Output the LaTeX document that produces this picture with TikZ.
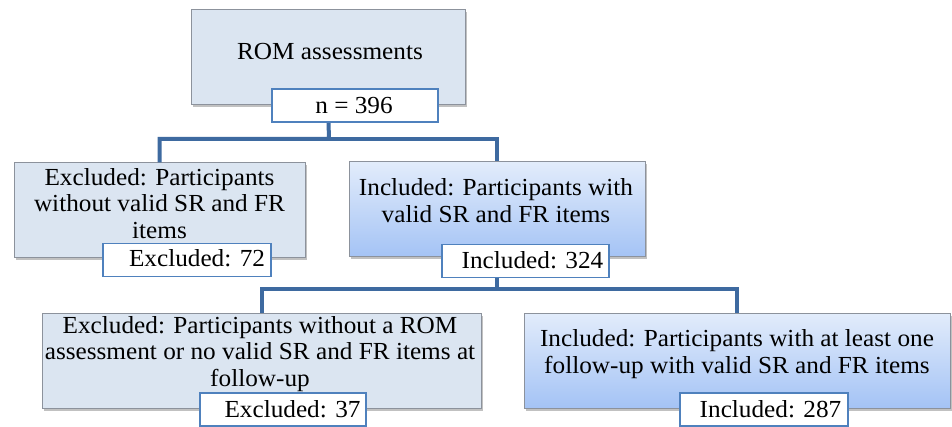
\documentclass[tikz,border=0pt]{standalone}
\usepackage{fontspec}
\setmainfont[FakeStretch=1.03]{Liberation Serif}
\usetikzlibrary{shadows}
\definecolor{exfill}{RGB}{219,229,241}
\definecolor{boxline}{RGB}{140,146,156}
\definecolor{intop}{RGB}{226,236,251}
\definecolor{inbot}{RGB}{164,195,245}
\definecolor{conn}{RGB}{62,106,160}
\definecolor{smallline}{RGB}{79,129,189}
\tikzset{
  bigbox/.style={draw=boxline, line width=1pt, inner sep=0pt,
    drop shadow={shadow xshift=1.5pt, shadow yshift=-2.5pt, opacity=0.35, fill=black!70}},
  exbox/.style={bigbox, fill=exfill},
  inbox/.style={bigbox, top color=intop, bottom color=inbot},
  countbox/.style={draw=smallline, fill=white, line width=1.3pt, inner sep=0pt,
    minimum width=166pt, minimum height=33pt},
  txt/.style={align=center, anchor=base, inner sep=0pt,
    font=\fontsize{24.5}{26.5}\selectfont},
  connector/.style={draw=conn, line width=4pt, line join=miter},
}
\begin{document}
\begin{tikzpicture}[x=1pt, y=-1pt]
\useasboundingbox (0,0) rectangle (952,427);
% junctions
\coordinate (j1) at (329,139);
\coordinate (j2) at (497,289);
% big boxes
\node[exbox, minimum width=274pt, minimum height=95pt] (rom) at (328,57.5) {};
\node[exbox, minimum width=291pt, minimum height=95pt] (ex1) at (159.5,210.5) {};
\node[inbox, minimum width=296pt, minimum height=95pt] (in1) at (497,209.5) {};
\node[exbox, minimum width=439pt, minimum height=95pt] (ex2) at (261.5,360.5) {};
\node[inbox, minimum width=426pt, minimum height=95pt] (in2) at (737,360.5) {};
% connectors (behind count boxes)
\draw[connector] (rom.south) -- (j1) -| (ex1.north);
\draw[connector] (j1) -| (in1.north);
\draw[connector] (in1.south) -- (j2) -| (ex2.north);
\draw[connector] (j2) -| (in2.north);
% texts of big boxes (anchor base = baseline of last line)
\node[txt] (romt) at (330,60) {ROM assessments};
\node[txt] (ex1t) at (159.5,238.5) {Excluded: Participants\\without valid SR and FR\\items};
\node[txt] (in1t) at (496,222.5) {Included: Participants with\\valid SR and FR items};
\node[txt] (ex2t) at (260,386) {Excluded: Participants without a ROM\\assessment or no valid SR and FR items at\\follow-up};
\node[txt] (in2t) at (737,373) {Included: Participants with at least one\\follow-up with valid SR and FR items};
% count boxes
\node[countbox] (n396) at (355,105.5) {};
\node[countbox, minimum width=168pt] (ex72) at (187,260) {};
\node[countbox, minimum width=167pt] (in324) at (525.5,261) {};
\node[countbox] (ex37) at (283,409.5) {};
\node[countbox, minimum width=168pt] (in287) at (764,409.5) {};
\node[txt] (n396t) at (354,114) {n = 396};
\node[txt] (ex72t) at (197,267) {Excluded: 72};
\node[txt] (in324t) at (532.5,268.5) {Included: 324};
\node[txt] (ex37t) at (292.5,417.5) {Excluded: 37};
\node[txt] (in287t) at (770.5,417.5) {Included: 287};
\end{tikzpicture}
\end{document}
